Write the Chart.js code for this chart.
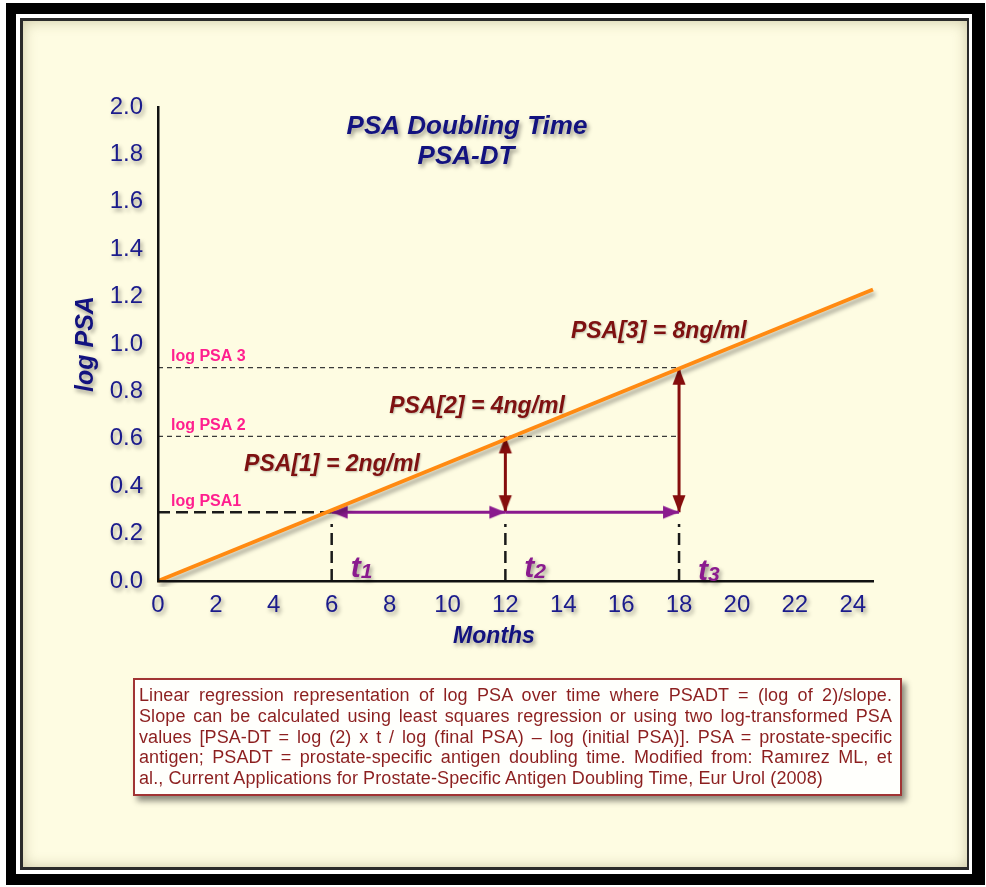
<!DOCTYPE html>
<html>
<head>
<meta charset="utf-8">
<script src="https://cdn.jsdelivr.net/npm/chart.js@4/dist/chart.umd.min.js"></script>
<style>
html,body{margin:0;padding:0;background:#fff;width:986px;height:887px;overflow:hidden;}
.fr{position:absolute;}
#black{left:6px;top:3px;width:979px;height:882px;background:#000;}
#white{left:16px;top:14px;width:956px;height:860px;background:#fff;}
#dark{left:20px;top:18px;width:949px;height:852px;background:#2a2a2a;}
#cream{left:23px;top:21px;width:944px;height:846px;background:#fefce2;box-shadow:inset 0 0 14px rgba(110,100,50,0.35);}
#wrap{position:absolute;left:0;top:0;width:986px;height:887px;}
#caption{position:absolute;left:133px;top:678px;width:769px;height:118px;box-sizing:border-box;
  border:2px solid #a13434;background:#fffffc;box-shadow:4px 5px 6px rgba(0,0,0,0.45);
  font-family:"Liberation Sans",Arial,Helvetica,sans-serif;font-size:18px;letter-spacing:0.1px;line-height:20.8px;color:#8c1f1f;
  padding:5px 8px 0 4px;}
#caption div{text-align:justify;text-align-last:justify;}
#caption div.last{text-align-last:left;}
</style>
</head>
<body>
<div class="fr" id="black"></div>
<div class="fr" id="white"></div>
<div class="fr" id="dark"></div>
<div class="fr" id="cream"></div>
<div id="wrap"><canvas id="c"></canvas></div>
<div id="caption">
<div>Linear regression representation of log PSA over time where PSADT = (log of 2)/slope.</div>
<div>Slope can be calculated using least squares regression or using two log-transformed PSA</div>
<div>values [PSA-DT = log (2) x t / log (final PSA) – log (initial PSA)]. PSA = prostate-specific</div>
<div>antigen; PSADT = prostate-specific antigen doubling time. Modified from: Ramırez ML, et</div>
<div class="last">al., Current Applications for Prostate-Specific Antigen Doubling Time, Eur Urol (2008)</div>
</div>
<script>
// ---- data ----
const regressionMonths = [0, 24.7];
const regressionLogPSA = [0, 1.23];
const xTickValues = [0, 2, 4, 6, 8, 10, 12, 14, 16, 18, 20, 22, 24];
const yTickValues = [0, 0.2, 0.4, 0.6, 0.8, 1.0, 1.2, 1.4, 1.6, 1.8, 2.0];
const psaMonths = [6, 12, 18];
const psaLevels = [0.29, 0.61, 0.90];
const psaLabels = ['PSA[1] = 2ng/ml', 'PSA[2] = 4ng/ml', 'PSA[3] = 8ng/ml'];
const levelLabels = ['log PSA1', 'log PSA 2', 'log PSA 3'];
const timeSubscripts = ['1', '2', '3'];
const timeLineTop = 0.24;
const titleLines = ['PSA Doubling Time', 'PSA-DT'];
const xTitle = 'Months';
const yTitle = 'log PSA';

// ---- styles ----
const FAMILY = '"Liberation Sans", Arial, Helvetica, sans-serif';
const NAVY = '#12127f';
const TICKNAVY = '#1b1b8c';
const ORANGE = '#ff8a12';
const PURPLE = '#8a1a8e';
const DARKRED = '#850d0d';
const PINK = '#ff1f8f';
const LABELRED = '#7e1111';

function makeHead(color, len, halfW) {
  const s = Math.ceil(len * 2 + 4);
  const c = document.createElement('canvas');
  c.width = s; c.height = s;
  const g = c.getContext('2d');
  const cx = s / 2, cy = s / 2;
  g.fillStyle = color;
  g.beginPath();
  g.moveTo(cx, cy);
  g.lineTo(cx + halfW, cy + len);
  g.lineTo(cx - halfW, cy + len);
  g.closePath();
  g.fill();
  return c;
}
const purpleHead = makeHead(PURPLE, 16, 6.5);
const redHead = makeHead(DARKRED, 17, 6.5);

const pt = (x, y) => ({x, y});
const datasets = [];
// 0: regression line (drawn on top)
datasets.push({data: regressionMonths.map((m, i) => pt(m, regressionLogPSA[i])),
  borderColor: ORANGE, borderWidth: 4, pointRadius: 0, clip: 6});
// purple time arrows
datasets.push({data: [pt(psaMonths[0], psaLevels[0]), pt(psaMonths[1], psaLevels[0])],
  borderColor: PURPLE, borderWidth: 3, pointStyle: purpleHead, pointRadius: [6, 6], pointRotation: [-90, 90]});
datasets.push({data: [pt(psaMonths[1], psaLevels[0]), pt(psaMonths[2], psaLevels[0])],
  borderColor: PURPLE, borderWidth: 3, pointStyle: purpleHead, pointRadius: [0, 6], pointRotation: [0, 90]});
// dark red level arrows
datasets.push({data: [pt(psaMonths[1], psaLevels[0]), pt(psaMonths[1], psaLevels[1])],
  borderColor: DARKRED, borderWidth: 3, pointStyle: redHead, pointRadius: [6, 6], pointRotation: [180, 0]});
datasets.push({data: [pt(psaMonths[2], psaLevels[0]), pt(psaMonths[2], psaLevels[2])],
  borderColor: DARKRED, borderWidth: 3, pointStyle: redHead, pointRadius: [6, 6], pointRotation: [180, 0]});
// thick dashed lines
datasets.push({data: [pt(0, psaLevels[0]), pt(psaMonths[0], psaLevels[0])],
  borderColor: '#1a1a1a', borderWidth: 2.5, borderDash: [12, 6], pointRadius: 0});
psaMonths.forEach(m => datasets.push({data: [pt(m, 0), pt(m, timeLineTop)],
  borderColor: '#1a1a1a', borderWidth: 2.5, borderDash: [12, 6], pointRadius: 0}));
// thin dashed lines
[1, 2].forEach(i => datasets.push({data: [pt(0, psaLevels[i]), pt(psaMonths[2], psaLevels[i])],
  borderColor: '#3a3a3a', borderWidth: 1.2, borderDash: [5, 4], pointRadius: 0}));

function setShadow(ctx, blur, ox, oy, col) {
  ctx.shadowColor = col; ctx.shadowBlur = blur; ctx.shadowOffsetX = ox; ctx.shadowOffsetY = oy;
}

const decor = {
  id: 'decor',
  beforeDraw(chart) {
    chart.ctx.save();
    setShadow(chart.ctx, 4, 2, 3, 'rgba(0,0,0,0.38)');
  },
  beforeDatasetsDraw(chart) { chart.ctx.restore(); },
  beforeDatasetDraw(chart, args) {
    if (args.index === 0) { chart.ctx.save(); setShadow(chart.ctx, 4, 2, 4, 'rgba(0,0,0,0.35)'); }
  },
  afterDatasetDraw(chart, args) { if (args.index === 0) chart.ctx.restore(); },
  afterDraw(chart) {
    const ctx = chart.ctx, xs = chart.scales.x, ys = chart.scales.y, area = chart.chartArea;
    const px = v => xs.getPixelForValue(v), py = v => ys.getPixelForValue(v);
    ctx.save();
    ctx.textBaseline = 'middle';
    // level labels (pink, no shadow)
    ctx.font = 'bold 16px ' + FAMILY;
    ctx.fillStyle = PINK; ctx.textAlign = 'left';
    levelLabels.forEach((t, i) => ctx.fillText(t, area.left + 13, py(psaLevels[i]) - 11));
    // PSA value labels
    const anchors = [[6.01, 0.489], [11.02, 0.734], [17.3, 1.05]];
    ctx.save();
    setShadow(ctx, 2, 1, 1, 'rgba(0,0,0,0.25)');
    ctx.font = 'italic bold 23px ' + FAMILY;
    ctx.fillStyle = LABELRED; ctx.textAlign = 'center';
    psaLabels.forEach((t, i) => ctx.fillText(t, px(anchors[i][0]), py(anchors[i][1])));
    ctx.restore();
    // shadowed texts
    setShadow(ctx, 4, 2, 3, 'rgba(0,0,0,0.4)');
    // t labels
    ctx.textBaseline = 'alphabetic'; ctx.textAlign = 'left'; ctx.fillStyle = PURPLE;
    psaMonths.forEach((m, i) => {
      const x0 = px(m) + 19, yb = py(0) - 4 + (i === 2 ? 3 : 0);
      ctx.font = 'italic bold 30px ' + FAMILY;
      ctx.fillText('t', x0, yb);
      const w = ctx.measureText('t').width;
      ctx.font = 'italic bold 21px ' + FAMILY;
      ctx.fillText(timeSubscripts[i], x0 + w, yb + 1);
    });
    // title
    ctx.textBaseline = 'middle'; ctx.textAlign = 'center'; ctx.fillStyle = NAVY;
    ctx.font = 'italic bold 26px ' + FAMILY;
    ctx.fillText(titleLines[0], 467, 127);
    ctx.fillText(titleLines[1], 466, 157);
    // x title
    ctx.font = 'italic bold 23px ' + FAMILY;
    ctx.fillText(xTitle, 494, 637);
    ctx.restore();
  }
};

new Chart(document.getElementById('c'), {
  type: 'line',
  data: {datasets},
  plugins: [decor],
  options: {
    responsive: true,
    maintainAspectRatio: false,
    animation: false,
    events: [],
    layout: {padding: {left: 67, top: 107, right: 113, bottom: 246}},
    plugins: {legend: {display: false}, tooltip: {enabled: false}},
    elements: {line: {tension: 0, borderCapStyle: 'butt'}},
    scales: {
      x: {
        type: 'linear', min: 0, max: regressionMonths[1],
        afterBuildTicks: s => { s.ticks = xTickValues.map(v => ({value: v})); },
        afterFit: s => { s.height = 60; },
        grid: {display: false, drawTicks: false},
        border: {display: true, color: '#111', width: 2.5, z: 1},
        ticks: {font: {size: 24, family: FAMILY}, color: TICKNAVY, padding: 10, maxRotation: 0, autoSkip: false,
          callback: v => String(v)}
      },
      y: {
        type: 'linear', min: 0, max: 2.0,
        afterBuildTicks: s => { s.ticks = yTickValues.map(v => ({value: v})); },
        afterFit: s => { s.width = 91; },
        grid: {display: false, drawTicks: false},
        border: {display: true, color: '#111', width: 2.5, z: 1},
        ticks: {font: {size: 24, family: FAMILY}, color: TICKNAVY, padding: 15, autoSkip: false,
          callback: v => Number(v).toFixed(1)},
        title: {display: true, text: yTitle, color: NAVY, font: {size: 25, weight: 'bold', style: 'italic', family: FAMILY}, padding: {top: 4, bottom: 4}}
      }
    }
  }
});
</script>
</body>
</html>
